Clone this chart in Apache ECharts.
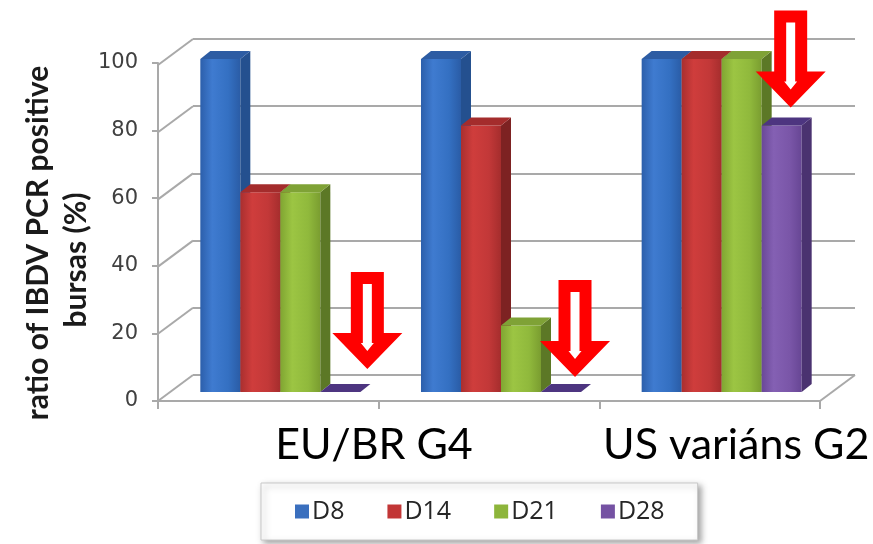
<!DOCTYPE html>
<html>
<head>
<meta charset="utf-8">
<script src="https://cdn.jsdelivr.net/npm/echarts@6/dist/echarts.min.js"></script>
<style>
  html, body { margin: 0; padding: 0; background: #ffffff; }
  #chart { width: 873px; height: 544px; }
</style>
</head>
<body>
<div id="chart"></div>
<script>
// Share of IBDV PCR-positive bursas per sampling day and strain group
const groups = ['EU/BR G4 a', 'EU/BR G4 b', 'US variáns G2'];
const groupLabels = ['EU/BR G4', 'US variáns G2'];
const days = ['D8', 'D14', 'D21', 'D28'];
const d8 = [100, 100, 100];
const d14 = [60, 80, 100];
const d21 = [60, 20, 100];
const d28 = [0, 0, 80];
const yTicks = [0, 20, 40, 60, 80, 100];
const yTitle = ['ratio of IBDV PCR positive', 'bursas (%)'];

const dayValues = [d8, d14, d21, d28];

// face colours of the 3D columns
const palettes = [
  { front: ['#2c5fab', '#3f7bd0', '#3470c2', '#2a5ca6'], top: '#2d5ca3', side: '#24508f', legend: '#3a6fbe' },
  { front: ['#a92f2f', '#cf3d3c', '#c23838', '#a52d2d'], top: '#a42c2c', side: '#7d2222', legend: '#c23636' },
  { front: ['#80a532', '#9cc543', '#90b93c', '#7a9d30'], top: '#7fa236', side: '#5c7826', legend: '#8db53b' },
  { front: ['#6a4898', '#8460b3', '#7a56a8', '#674694'], top: '#4d3580', side: '#4a3270', legend: '#7552a3' }
];

// receding depth of the floor/walls and of each column
const WALL_DX = 35, WALL_DY = -26;
const BAR_DX = 10, BAR_DY = -8;
const LINE = '#a9a9a9';

function barRenderer(k) {
  const pal = palettes[k];
  return function (params, api) {
    const i = api.value(0), v = api.value(1);
    const base = api.coord([i, 0]);
    const top = api.coord([i, v]);
    const band = api.size([1, 0])[0];
    const w = band * 0.1813;
    const x0 = base[0] - 2 * w + k * w;
    const yb = base[1], yt = top[1];
    const kids = [];
    if (yb - yt > 0.5) {
      kids.push({
        type: 'rect',
        shape: { x: x0, y: yt, width: w, height: yb - yt },
        style: {
          fill: new echarts.graphic.LinearGradient(0, 0, 1, 0, [
            { offset: 0, color: pal.front[0] },
            { offset: 0.3, color: pal.front[1] },
            { offset: 0.7, color: pal.front[2] },
            { offset: 1, color: pal.front[3] }
          ])
        }
      });
      kids.push({
        type: 'polygon',
        shape: { points: [[x0 + w, yt], [x0 + w + BAR_DX, yt + BAR_DY], [x0 + w + BAR_DX, yb + BAR_DY], [x0 + w, yb]] },
        style: { fill: pal.side }
      });
    }
    kids.push({
      type: 'polygon',
      shape: { points: [[x0, yt], [x0 + BAR_DX, yt + BAR_DY], [x0 + w + BAR_DX, yt + BAR_DY], [x0 + w, yt]] },
      style: { fill: pal.top }
    });
    return { type: 'group', children: kids };
  };
}

// left wall diagonals and the right edge of the floor
function frameRenderer(params, api) {
  const cs = params.coordSys;
  const v = api.value(1);
  const y = api.coord([0, v])[1];
  const kids = [{
    type: 'line',
    shape: { x1: cs.x, y1: y, x2: cs.x - WALL_DX, y2: y - WALL_DY },
    style: { stroke: LINE, lineWidth: 2 }
  }];
  if (v === 0) {
    const xr = cs.x + cs.width;
    kids.push({
      type: 'line',
      shape: { x1: xr, y1: y, x2: xr - WALL_DX, y2: y - WALL_DY },
      style: { stroke: LINE, lineWidth: 2 }
    });
  }
  return { type: 'group', children: kids };
}

// hollow arrows pointing at the D28 columns
const ARROW_SHIFT = [[27, -23], [14, -15], [9, -18]];
function arrowRenderer(params, api) {
  const i = api.value(0), v = api.value(1);
  const base = api.coord([i, 0]);
  const top = api.coord([i, v]);
  const band = api.size([1, 0])[0];
  const w = band * 0.1813;
  const cx = base[0] + w * 1.5;
  const s = ARROW_SHIFT[params.dataIndex];
  const tx = cx + s[0], ty = top[1] + s[1];
  return {
    type: 'group',
    children: [{
      type: 'polygon',
      shape: { points: [[tx - 16.5, ty - 97], [tx + 16.5, ty - 97], [tx + 16.5, ty - 36], [tx + 35, ty - 36], [tx, ty], [tx - 35, ty - 36], [tx - 16.5, ty - 36]] },
      style: { fill: '#ff0000' }
    }, {
      type: 'polygon',
      shape: { points: [[tx - 4.5, ty - 85], [tx + 4.5, ty - 85], [tx + 4.5, ty - 26], [tx + 6.5, ty - 26], [tx, ty - 18], [tx - 6.5, ty - 26], [tx - 4.5, ty - 26]] },
      style: { fill: '#ffffff' }
    }]
  };
}

const chart = echarts.init(document.getElementById('chart'), null, { renderer: 'canvas' });

const series = [{
  type: 'custom',
  name: 'frame',
  xAxisIndex: 1, yAxisIndex: 1,
  data: yTicks.map(v => [0, v]),
  renderItem: frameRenderer,
  silent: true, z: 1
}];
days.forEach((d, k) => {
  series.push({
    type: 'custom',
    name: d,
    xAxisIndex: 2, yAxisIndex: 2,
    data: dayValues[k].map((v, i) => [i, v]),
    itemStyle: { color: palettes[k].legend },
    renderItem: barRenderer(k),
    z: 3 + k
  });
});
series.push({
  type: 'custom',
  name: 'arrows',
  xAxisIndex: 2, yAxisIndex: 2,
  data: d28.map((v, i) => [i, v]),
  renderItem: arrowRenderer,
  silent: true, z: 10
});

chart.setOption({
  animation: false,
  backgroundColor: '#ffffff',
  grid: [
    { left: 158, right: 53, top: 63, bottom: 143 },   // front plane (axes)
    { left: 193, right: 18, top: 39, bottom: 169 },   // back wall
    { left: 170, right: 41, top: 59, bottom: 152 }    // plane of the columns
  ],
  xAxis: [
    {
      gridIndex: 0, type: 'category', data: groups, boundaryGap: true,
      axisLine: { lineStyle: { color: LINE, width: 2 } },
      axisTick: { show: true, length: 8, alignWithLabel: false, lineStyle: { color: LINE, width: 2 } },
      axisLabel: { show: false }
    },
    { gridIndex: 1, type: 'category', data: groups, show: false },
    { gridIndex: 2, type: 'category', data: groups, show: false }
  ],
  yAxis: [
    {
      gridIndex: 0, type: 'value', min: 0, max: 100, interval: 20,
      axisLine: { show: true, lineStyle: { color: LINE, width: 2 } },
      axisTick: { show: true, length: 6, lineStyle: { color: LINE, width: 2 } },
      axisLabel: { margin: 20, fontSize: 21, color: '#404040', fontFamily: 'DejaVu Sans' },
      splitLine: { show: false }
    },
    {
      gridIndex: 1, type: 'value', min: 0, max: 100, interval: 20,
      axisLine: { show: false }, axisTick: { show: false }, axisLabel: { show: false },
      splitLine: { show: true, lineStyle: { color: LINE, width: 2 } }
    },
    {
      gridIndex: 2, type: 'value', min: 0, max: 100, interval: 20, show: false
    }
  ],
  legend: {
    data: days,
    left: 261, top: 483,
    itemWidth: 14, itemHeight: 14, itemGap: 43,
    padding: [16, 33, 16, 34],
    icon: 'rect',
    backgroundColor: '#ffffff',
    borderColor: '#c8c8c8', borderWidth: 1,
    shadowColor: 'rgba(0,0,0,0.35)', shadowBlur: 6, shadowOffsetX: 3, shadowOffsetY: 3,
    textStyle: { fontSize: 25, color: '#262626', fontFamily: 'Open Sans', padding: [0, 0, 0, -2] }
  },
  graphic: [
    {
      type: 'text', x: 374, y: 445,
      style: { text: groupLabels[0], align: 'center', verticalAlign: 'middle', font: '43px Lato', fill: '#000000' }
    },
    {
      type: 'text', x: 603, y: 445,
      style: { text: groupLabels[1], align: 'left', verticalAlign: 'middle', font: '43px Lato', fill: '#000000' }
    },
    {
      type: 'text', x: 38, y: 243, rotation: Math.PI / 2,
      style: { text: yTitle[0], align: 'center', verticalAlign: 'middle', font: 'bold 30px Lato', fill: '#1a1a1a' }
    },
    {
      type: 'text', x: 76, y: 260, rotation: Math.PI / 2,
      style: { text: yTitle[1], align: 'center', verticalAlign: 'middle', font: 'bold 30px Lato', fill: '#1a1a1a' }
    }
  ],
  series: series
});
</script>
</body>
</html>
